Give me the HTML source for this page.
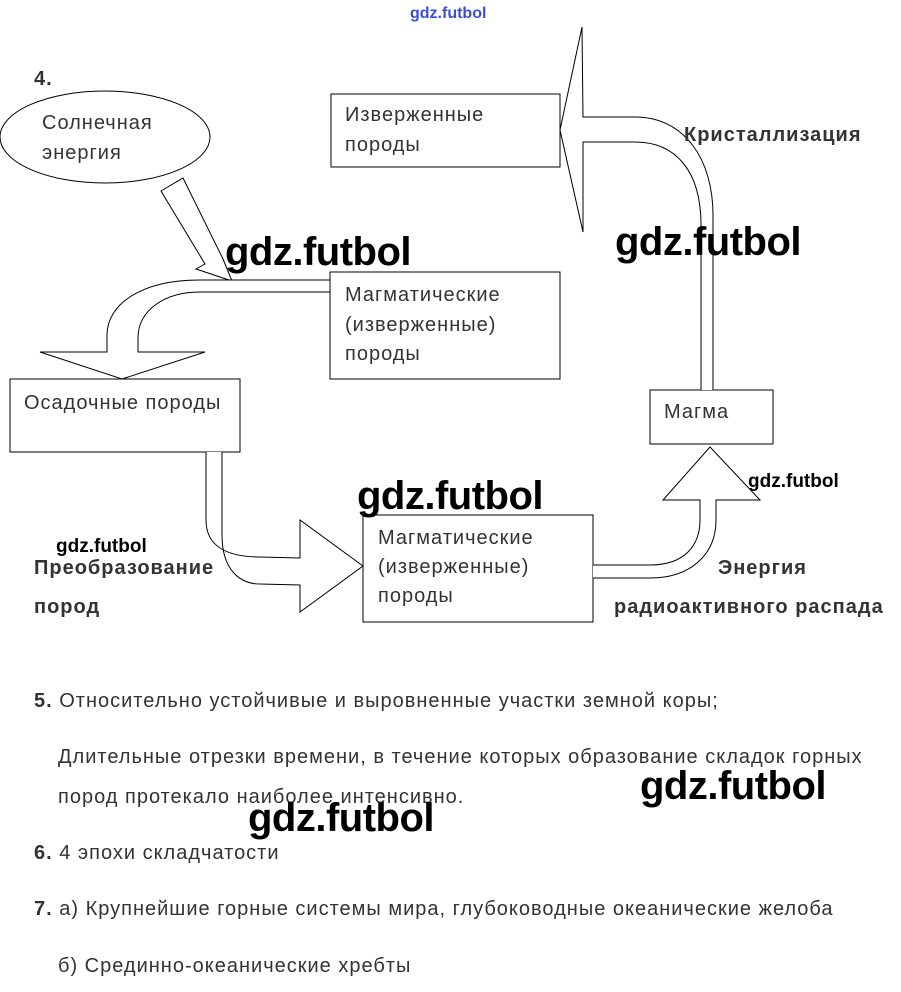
<!DOCTYPE html>
<html><head><meta charset="utf-8"><style>
html,body{margin:0;padding:0;background:#fff}
body{width:901px;height:992px;position:relative;overflow:hidden;font-family:"Liberation Sans",Arial,sans-serif}
.t{position:absolute;font-size:20px;letter-spacing:1px;color:#333;white-space:nowrap;line-height:22px}
.b{font-weight:bold}
.w{position:absolute;font-family:"Liberation Sans",sans-serif;font-size:40px;font-weight:bold;color:#000;white-space:nowrap;letter-spacing:-0.5px}
.ws{position:absolute;font-weight:bold;font-size:19px;color:#000;white-space:nowrap}
</style></head><body>
<svg width="901" height="992" style="position:absolute;left:0;top:0" fill="#fff" stroke="#000" stroke-width="1">
<ellipse cx="105" cy="137" rx="105" ry="46"/>
<polygon points="161,191 183,178 223,259 232,281 196,269 205,264"/>
<path d="M330,280 L200,280 C140,280 107,305 107,335 L107,352 L40,352 L122,379 L205,352 L138,352 L138,338 C138,310 165,292 200,292 L330,292"/>
<rect x="331" y="94" width="229" height="73"/>
<rect x="330" y="272" width="230" height="107"/>
<rect x="10" y="379" width="230" height="73"/>
<rect x="650" y="390" width="123" height="54"/>
<rect x="363" y="515" width="230" height="107"/>
<path d="M701,390 L701,225 C701,170 675,142 635,142 L583,142 L583,232 L560,130 L582,27 L583,117 L635,117 C685,117 713,160 713,215 L713,390"/>
<path d="M593,565 L650,565 C685,565 700,545 700,520 L700,500 L663,500 L710,447 L760,500 L716,500 L716,520 C716,555 690,578 650,578 L593,578"/>
<path d="M206,452 L206,520 C206,545 225,557 260,557 L300,558 L300,520 L363,566 L300,612 L300,585 L260,584 C240,584 222,570 222,535 L222,452"/>
</svg>
<div class="t" style="left:410px;top:3px;font-size:16px;letter-spacing:0;color:#3a4fd0;font-weight:bold">gdz.futbol</div>
<div class="t b" style="left:34px;top:68px">4.</div>
<div class="t" style="left:42px;top:112px">Солнечная</div>
<div class="t" style="left:42px;top:142px">энергия</div>
<div class="t" style="left:345px;top:104px">Изверженные</div>
<div class="t" style="left:345px;top:134px">породы</div>
<div class="t b" style="left:684px;top:124px">Кристаллизация</div>
<div class="t" style="left:345px;top:284px">Магматические</div>
<div class="t" style="left:345px;top:314px">(изверженные)</div>
<div class="t" style="left:345px;top:343px">породы</div>
<div class="t" style="left:24px;top:392px">Осадочные породы</div>
<div class="t" style="left:664px;top:401px">Магма</div>
<div class="t" style="left:378px;top:527px">Магматические</div>
<div class="t" style="left:378px;top:556px">(изверженные)</div>
<div class="t" style="left:378px;top:585px">породы</div>
<div class="t b" style="left:34px;top:557px">Преобразование</div>
<div class="t b" style="left:34px;top:596px">пород</div>
<div class="t b" style="left:718px;top:557px">Энергия</div>
<div class="t b" style="left:614px;top:596px">радиоактивного распада</div>
<div class="t" style="left:34px;top:690px"><b>5.</b> Относительно устойчивые и выровненные участки земной коры;</div>
<div class="t" style="left:58px;top:746px">Длительные отрезки времени, в течение которых образование складок горных</div>
<div class="t" style="left:58px;top:786px">пород протекало наиболее интенсивно.</div>
<div class="t" style="left:34px;top:842px"><b>6.</b> 4 эпохи складчатости</div>
<div class="t" style="left:34px;top:898px"><b>7.</b> а) Крупнейшие горные системы мира, глубоководные океанические желоба</div>
<div class="t" style="left:58px;top:955px">б) Срединно-океанические хребты</div>
<div class="w" style="left:225px;top:230px">gdz.futbol</div>
<div class="w" style="left:615px;top:220px">gdz.futbol</div>
<div class="w" style="left:357px;top:474px">gdz.futbol</div>
<div class="w" style="left:640px;top:764px">gdz.futbol</div>
<div class="w" style="left:248px;top:796px">gdz.futbol</div>
<div class="ws" style="left:56px;top:536px">gdz.futbol</div>
<div class="ws" style="left:748px;top:471px">gdz.futbol</div>
</body></html>
